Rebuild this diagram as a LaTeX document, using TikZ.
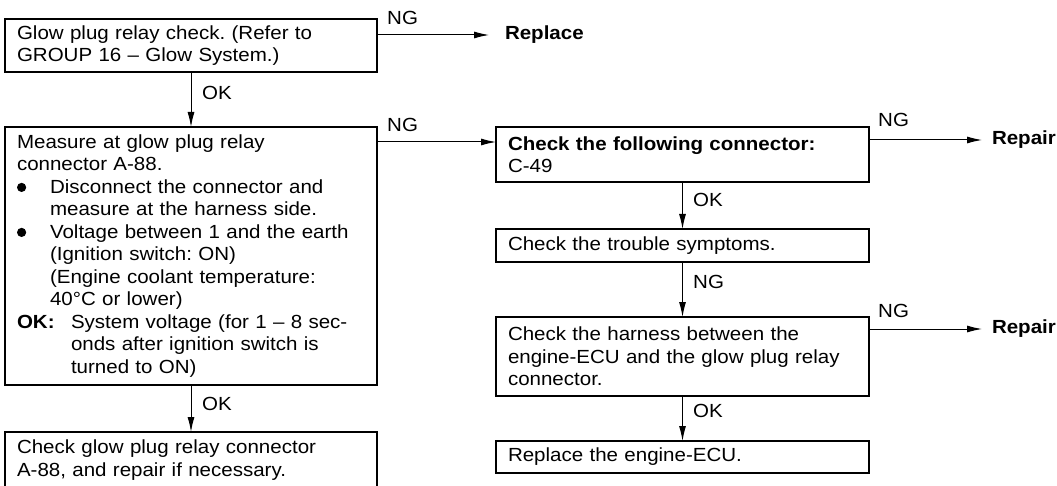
\documentclass[tikz,border=0pt]{standalone}
\usepackage{fontspec}
\usepackage{graphicx}
\setmainfont{Liberation Sans}[FakeStretch=1.08, WordSpace=2]
\usetikzlibrary{arrows.meta, calc}
\newcommand\mybl{\makebox[33pt][l]{\tikz[x=1pt,y=1pt,baseline=-6pt]\fill (4.5pt,0) circle (4.6pt);}}
\newcommand\myind{\hspace*{33pt}}
\newcommand\myokind{\hspace*{54pt}}
\tikzset{
  txtfont/.style={font=\fontsize{19}{22.5}\selectfont\frenchspacing},
  box/.style={draw, line width=1.2pt, anchor=north west, align=left, outer sep=0pt,
              inner xsep=12pt, inner ysep=0pt, txtfont},
  arr/.style={-{Latex[length=15pt,width=7pt]}, line width=1pt},
  lbl/.style={anchor=base west, inner sep=0pt, txtfont},
  endlbl/.style={anchor=west, inner ysep=0pt, outer sep=0pt, font=\bfseries\fontsize{19}{22.5}\selectfont},
}
\begin{document}
\begin{tikzpicture}[x=1pt,y=-1pt]
\useasboundingbox (0,0) rectangle (1057,486);

% left column
\node[box, text width=348pt, minimum height=53pt] (b1) at (5,19)
  {Glow plug relay check. (Refer to\\GROUP 16 – Glow System.)};
\node[box, text width=348pt, minimum height=258pt] (b2) at (5,127)
  {Measure at glow plug relay\\
   connector A-88.\\
   \mybl Disconnect the connector and\\
   \myind measure at the harness side.\\
   \mybl Voltage between 1 and the earth\\
   \myind (Ignition switch: ON)\\
   \myind (Engine coolant temperature:\\
   \myind 40°C or lower)\\
   \makebox[54pt][l]{\textbf{OK:}}System voltage (for 1 – 8 sec-\\
   \myokind onds after ignition switch is\\
   \myokind turned to ON)};
\node[box, text width=348pt, minimum height=56pt] (b7) at (5,432)
  {Check glow plug relay connector\\A-88, and repair if necessary.};

% right column
\node[box, text width=349pt, minimum height=55pt] (b3) at (496,127)
  {\textbf{Check the following connector:}\\C-49};
\node[box, text width=349pt, minimum height=33pt] (b4) at (496,229)
  {Check the trouble symptoms.};
\node[box, text width=349pt, minimum height=79pt] (b5) at (496,317)
  {Check the harness between the\\engine-ECU and the glow plug relay\\connector.};
\node[box, text width=349pt, minimum height=32pt] (b6) at (496,441)
  {Replace the engine-ECU.};

% end labels
\node[endlbl, inner xsep=16pt] (rep0) at (489,35) {Replace};
\node[endlbl, inner xsep=10pt] (rep1) at (982,140) {Repair};
\node[endlbl, inner xsep=10pt] (rep2) at (982,329) {Repair};

% connectors
\draw[arr] (rep0.west -| b1.east) -- (rep0.west);
\draw[arr] ([yshift=-15pt]b2.north east) -- ([yshift=-15pt]b3.north west);
\draw[arr] (rep1.west -| b3.east) -- (rep1.west);
\draw[arr] (rep2.west -| b5.east) -- (rep2.west);
\draw[arr] (b1.south) -- (b2.north);
\draw[arr] (b2.south) -- (b7.north);
\draw[arr] (b3.south) -- (b4.north);
\draw[arr] (b4.south) -- (b5.north);
\draw[arr] (b5.south) -- (b6.north);

% connector labels
\node[lbl] (l1) at (387,25) {NG};
\node[lbl] (l2) at (387,132) {NG};
\node[lbl] (l3) at (878,127) {NG};
\node[lbl] (l4) at (878,317) {NG};
\node[lbl] (l5) at (202,100) {OK};
\node[lbl] (l6) at (202,410) {OK};
\node[lbl] (l7) at (693,207) {OK};
\node[lbl] (l8) at (693,288) {NG};
\node[lbl] (l9) at (693,417) {OK};
\end{tikzpicture}
\end{document}
